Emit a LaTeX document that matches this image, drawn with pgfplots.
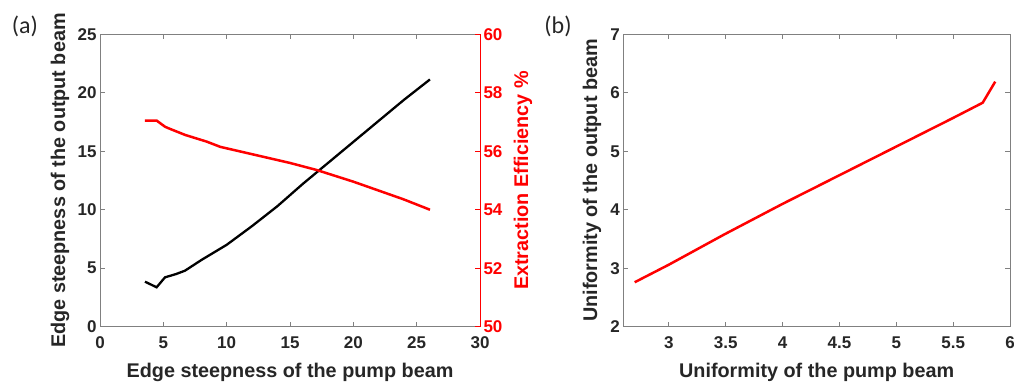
\documentclass[border=0pt]{standalone}
\usepackage{pgfplots}
\pgfplotsset{compat=1.18}
\usepackage{fontspec}
\setmainfont{Liberation Sans}
\newfontfamily\carlito{Carlito}
\definecolor{tc}{HTML}{262626}
\definecolor{ac}{HTML}{808080}
\definecolor{rd}{RGB}{255,0,0}
\newcommand\lblfont{\fontsize{19.8}{23}\selectfont\bfseries}
\pgfplotsset{
  common/.style={
    scale only axis, height=292.4pt, anchor=south west,
    tick align=inside, major tick length=5pt,
    axis line style={ac, line width=0.7pt},
    tick style={ac, line width=0.7pt},
    ticklabel style={font=\fontsize{17}{20}\selectfont\bfseries, text=tc},
    /pgf/number format/assume math mode=true,
    xticklabel style={yshift=-6.5pt},
    every axis x label/.style={at={(axis description cs:0.5,-0.155)}, anchor=center, font=\lblfont, text=tc},
  }
}
\begin{document}
\begin{tikzpicture}[x=1pt,y=1pt]
\useasboundingbox (0,0) rectangle (1014,383);
% panel (a), left axis
\begin{axis}[common, at={(100pt,56.3pt)}, width=380pt,
  xmin=0, xmax=30, ymin=0, ymax=25,
  xtick={0,5,...,30}, ytick={0,5,...,25},
  ytick pos=left,
  every axis y label/.style={at={(axis description cs:-0.105,0.5)}, rotate=90, anchor=center, font=\lblfont, text=tc},
  xlabel={Edge steepness of the pump beam},
  ylabel={Edge steepness of the output beam}]
\addplot[black, line width=2.3pt] coordinates {
(3.55,3.85) (4.47,3.37) (5.13,4.22) (6.0,4.5) (6.71,4.79) (8,5.7) (10,7.0)
(12,8.6) (14,10.3) (16,12.2) (18,14.0) (20,15.8) (22,17.6) (24,19.4) (26.05,21.14)};
\end{axis}
% panel (a), right axis
\begin{axis}[common, at={(100pt,56.3pt)}, width=380pt,
  xmin=0, xmax=30, ymin=50, ymax=60,
  ytick={50,52,...,60},
  axis x line=none, axis y line*=right,
  y axis line style={rd, line width=0.7pt},
  ytick style={rd, line width=0.7pt},
  yticklabel style={text=rd},
  every axis y label/.style={at={(axis description cs:1.113,0.5)}, rotate=90, anchor=center, font=\lblfont, text=rd},
  ylabel={Extraction Efficiency \%}]
\addplot[rd, line width=2.5pt] coordinates {
(3.55,57.05) (4.47,57.05) (5.13,56.84) (5.39,56.79) (6.71,56.56) (8.42,56.33)
(9.5,56.15) (12,55.9) (15,55.6) (17.1,55.36) (20,54.96) (23.94,54.36) (26.05,54.0)};
\end{axis}
% panel (b)
\begin{axis}[common, at={(623.3pt,56.3pt)}, width=386.7pt,
  xmin=2.6, xmax=6, ymin=2, ymax=7,
  xtick={3,3.5,...,6}, ytick={2,3,...,7},
  every axis y label/.style={at={(axis description cs:-0.081,0.5)}, rotate=90, anchor=center, font=\lblfont, text=tc},
  xlabel={Uniformity of the pump beam},
  ylabel={Uniformity of the output beam}]
\addplot[rd, line width=2.5pt] coordinates {
(2.70,2.76) (3.0,3.06) (3.49,3.58) (4.0,4.1) (4.5,4.59) (5.0,5.08) (5.5,5.57) (5.76,5.83) (5.87,6.19)};
\end{axis}
\node[font=\carlito\fontsize{24}{28}\selectfont, text=tc] at (25,357) {(a)};
\node[font=\carlito\fontsize{24}{28}\selectfont, text=tc] at (558,357) {(b)};
\end{tikzpicture}
\end{document}
